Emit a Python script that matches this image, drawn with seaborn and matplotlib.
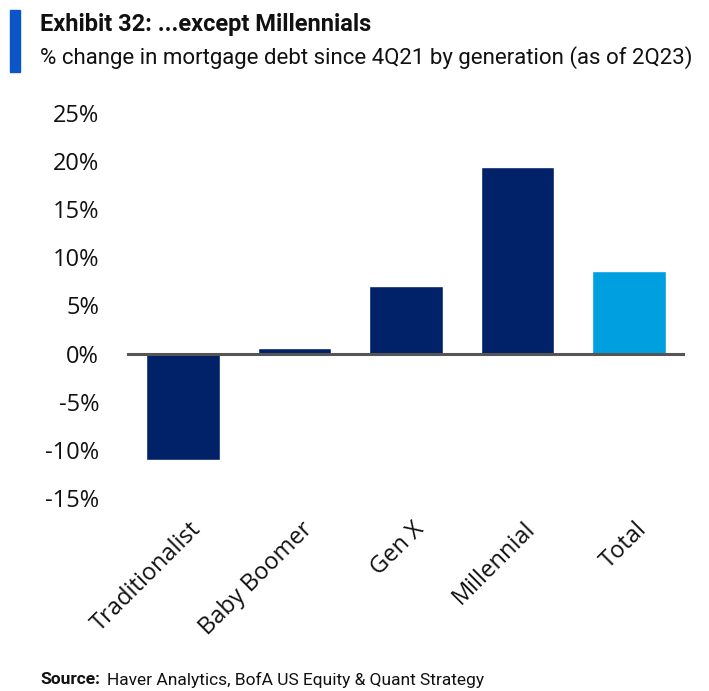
import matplotlib
matplotlib.use("Agg")
import matplotlib.pyplot as plt
import matplotlib.patches as patches
import matplotlib.transforms as mtransforms
import seaborn as sns
import pandas as pd

# data
generations = ["Traditionalist", "Baby Boomer", "Gen X", "Millennial", "Total"]
pct_change = [-11.0, 0.6, 7.0, 19.4, 8.6]
y_ticks = [-15, -10, -5, 0, 5, 10, 15, 20, 25]

navy = "#012169"
light_blue = "#009FDF"
colors = {g: (light_blue if g == "Total" else navy) for g in generations}

df = pd.DataFrame({"generation": generations, "pct": pct_change})

sns.set_style("white")
plt.rcParams["font.family"] = ["Open Sans", "DejaVu Sans"]
head_font = ["Roboto", "DejaVu Sans"]

fig = plt.figure(figsize=(7.09, 6.91), dpi=100)
ax = fig.add_axes([127 / 709, 1 - 498 / 691, (685 - 127) / 709, (498 - 113) / 691])

sns.barplot(data=df, x="generation", y="pct", hue="generation", palette=colors,
            width=0.66, legend=False, ax=ax, saturation=1)

ax.axhline(0, color="#555555", lw=2.2, zorder=3)
ax.set_xlim(-0.5, 4.5)
ax.set_ylim(-15, 25)
ax.set_yticks(y_ticks)
ax.set_yticklabels([f"{t}%" for t in y_ticks], fontsize=17, color="#111111")
ax.tick_params(axis="y", length=0, pad=20)
ax.tick_params(axis="x", length=0, pad=14)
ax.set_xlabel("")
ax.set_ylabel("")
for s in ax.spines.values():
    s.set_visible(False)

# rotated category labels, right end just past the bar centre
offset = mtransforms.ScaledTranslation(6 / 100, 0, fig.dpi_scale_trans)
ax.set_xticks(range(len(generations)))
ax.set_xticklabels(generations, rotation=45, ha="right", va="top",
                   rotation_mode="anchor", fontsize=17, color="#111111")
for lbl in ax.get_xticklabels():
    lbl.set_transform(lbl.get_transform() + offset)

# header
fig.patches.append(patches.Rectangle((10 / 709, 1 - 72 / 691), 10 / 709, 62 / 691,
                                     transform=fig.transFigure, color="#0A55C8"))
fig.text(40 / 709, 1 - 25 / 691, "Exhibit 32: ...except Millennials",
         fontsize=17, fontweight="bold", va="center", ha="left",
         family=head_font, color="#111111")
fig.text(40 / 709, 1 - 58 / 691,
         "% change in mortgage debt since 4Q21 by generation (as of 2Q23)",
         fontsize=16, va="center", ha="left", family=head_font, color="#111111")

# source
fig.text(40 / 709, 1 - 680 / 691, "Source:", fontsize=12.5, fontweight="bold",
         va="center", ha="left", family=head_font, color="#111111")
fig.text(107 / 709, 1 - 680 / 691, "Haver Analytics, BofA US Equity & Quant Strategy",
         fontsize=12.5, va="center", ha="left", family=head_font, color="#111111")

fig.savefig("out.png", dpi=100)
